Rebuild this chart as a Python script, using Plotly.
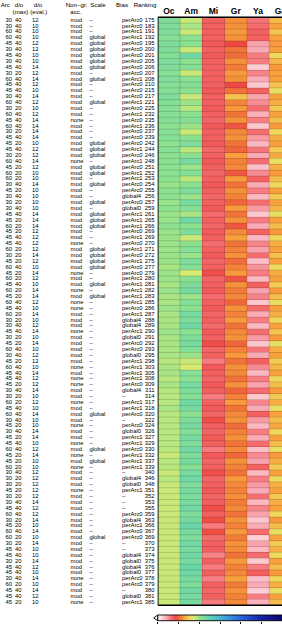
import numpy as np
import plotly.graph_objects as go

W, H = 282, 624

# ---------------- data ----------------
ARC = [30,30,60,60,45,30,45,30,45,30, 60,45,45,30,60,30,60,45,60,30,
       45,45,45,30,60,45,60,60,30,45, 30,30,30,45,45,60,45,45,45,60,
       30,45,60,45,60,45,60,45,60,45, 60,30,30,45,30,45,60,30,45,60,
       45,45,45,30,30,60,45,60,30,45, 30,45,45,60,45,45,60,30,30,30,
       45,30,30,45,60,30,45,60,60,30, 45,45,30,45,45,30,60,45,45,45]
DMAX = [40,40,40,40,40,40,40,40,40,20, 40,40,40,40,40,20,40,40,40,20,
        40,20,40,20,40,20,20,20,40,20, 40,20,40,40,20,20,20,40,40,20,
        20,20,40,20,20,40,20,20,40,40, 20,20,40,40,20,20,40,40,20,40,
        40,40,20,40,20,20,40,40,40,20, 40,20,40,40,20,20,20,40,20,20,
        20,20,40,40,40,20,20,40,20,20, 40,40,20,40,40,40,20,40,40,20]
DEVAL = [12,10,10,10,12,12,10,10,14,12, 14,12,10,14,12,10,12,14,14,14,
         14,10,12,12,14,12,10,10,14,10, 10,10,10,14,14,14,12,12,12,12,
         14,12,10,14,12,10,14,14,12,10, 14,10,12,14,10,14,10,12,12,10,
         14,12,12,14,10,12,10,14,10,10, 14,14,10,12,14,10,10,12,12,12,
         12,12,14,12,12,14,10,14,10,14, 10,10,14,12,10,14,10,14,12,10]
_none_rows = {17,24,38,43,46,48,49,53,59,61,62,65,69,72,74,76,80,95,99}
NONGR = ["none" if i in _none_rows else "mod" for i in range(100)]
_global_rows = {3,4,5,6,7,8,10,14,21,22,23,25,26,28,31,33,34,35,39,40,41,42,45,47,67,73,75,88}
SCALE = ["global" if i in _global_rows else "–" for i in range(100)]
BIAS = ["perArc0","perArc0","perArc1","perArc1","perArc0","perArc0","perArc0","perArc0","perArc0","perArc0",
        "perArc1","perArc0","perArc0","perArc0","perArc1","perArc0","perArc1","perArc0","perArc1","perArc0",
        "perArc0","perArc0","perArc1","perArc0","perArc1","perArc0","perArc1","perArc1","perArc0","perArc0",
        "global4","perArc0","global0","perArc1","perArc1","perArc1","perArc0","perArc1","perArc0","perArc1",
        "perArc0","perArc1","perArc0","perArc0","perArc1","perArc1","perArc1","perArc1","perArc1","perArc0",
        "perArc1","global4","global4","perArc1","global0","perArc0","perArc0","global0","perArc1","perArc1",
        "perArc1","perArc1","perArc0","global4","–","perArc1","perArc1","perArc0","–","perArc0",
        "global0","perArc1","perArc1","perArc0","perArc1","perArc1","perArc1","–","global4","global0",
        "perArc1","–","–","–","perArc0","global4","perArc1","perArc0","perArc0","–",
        "–","global4","global0","global4","global0","perArc0","perArc0","–","global0","perArc1"]
RANKING = [175,183,191,192,195,200,201,205,206,207, 208,210,215,217,221,225,232,235,236,237,
           239,242,244,246,248,251,252,253,254,255, 256,257,259,261,265,266,269,269,270,271,
           272,275,277,279,280,281,282,283,285,286, 287,288,289,290,291,292,293,295,298,303,
           305,308,309,311,314,317,318,320,322,324, 326,327,329,330,332,337,339,340,346,348,
           351,352,353,355,359,363,366,367,369,370, 373,374,375,376,377,378,379,380,381,385]

COLS = ["Oc", "Am", "Mi", "Gr", "Ya", "Ga"]
OC = [0.33,0.33,0.33,0.32,0.33,0.33,0.32,0.33,0.33,0.32, 0.33,0.32,0.32,0.33,0.32,0.32,0.32,0.32,0.31,0.32,
      0.32,0.31,0.32,0.31,0.31,0.31,0.31,0.31,0.30,0.31, 0.31,0.30,0.31,0.30,0.30,0.31,0.30,0.30,0.30,0.30,
      0.30,0.30,0.29,0.30,0.30,0.29,0.30,0.29,0.29,0.30, 0.29,0.29,0.29,0.30,0.29,0.29,0.29,0.29,0.28,0.29,
      0.29,0.28,0.29,0.28,0.28,0.28,0.29,0.28,0.28,0.28, 0.28,0.28,0.28,0.28,0.27,0.28,0.28,0.27,0.28,0.27,
      0.27,0.27,0.27,0.27,0.27,0.27,0.27,0.27,0.27,0.27, 0.27,0.27,0.27,0.27,0.27,0.27,0.27,0.27,0.27,0.27]
AM = [0.27,0.29,0.27,0.31,0.31,0.27,0.35,0.31,0.32,0.27, 0.31,0.32,0.31,0.27,0.30,0.28,0.31,0.32,0.30,0.27,
      0.31,0.33,0.28,0.31,0.34,0.30,0.32,0.28,0.31,0.33, 0.30,0.34,0.32,0.29,0.35,0.31,0.33,0.27,0.31,0.32,
      0.30,0.33,0.32,0.26,0.31,0.33,0.34,0.30,0.32,0.31, 0.34,0.33,0.35,0.31,0.33,0.34,0.32,0.30,0.27,0.26,
      0.32,0.31,0.34,0.33,0.32,0.35,0.34,0.31,0.33,0.34, 0.32,0.34,0.33,0.35,0.33,0.34,0.32,0.34,0.35,0.33,
      0.34,0.33,0.34,0.35,0.33,0.34,0.36,0.34,0.33,0.35, 0.34,0.35,0.34,0.36,0.35,0.34,0.33,0.35,0.34,0.34]
MI = [0.11,0.11,0.11,0.11,0.115,0.11,0.115,0.11,0.11,0.11, 0.11,0.11,0.115,0.11,0.11,0.115,0.11,0.105,0.115,0.11,
      0.11,0.115,0.105,0.11,0.115,0.11,0.105,0.11,0.115,0.11, 0.105,0.11,0.115,0.10,0.11,0.105,0.115,0.11,0.10,0.11,
      0.115,0.105,0.11,0.125,0.105,0.11,0.115,0.10,0.11,0.115, 0.105,0.11,0.10,0.115,0.11,0.125,0.105,0.11,0.09,0.115,
      0.11,0.105,0.115,0.11,0.09,0.11,0.115,0.105,0.125,0.11, 0.105,0.115,0.11,0.09,0.115,0.105,0.11,0.125,0.105,0.11,
      0.115,0.105,0.11,0.125,0.11,0.135,0.09,0.135,0.10,0.11, 0.11,0.085,0.11,0.09,0.11,0.088,0.11,0.105,0.11,0.09]
GR = [0.18,0.18,0.185,0.18,0.13,0.16,0.155,0.18,0.165,0.185, 0.18,0.13,0.16,0.215,0.17,0.185,0.16,0.18,0.14,0.175,
      0.18,0.16,0.15,0.19,0.17,0.175,0.14,0.185,0.16,0.18, 0.17,0.15,0.185,0.16,0.18,0.14,0.175,0.19,0.16,0.17,
      0.18,0.155,0.17,0.185,0.14,0.18,0.165,0.175,0.15,0.18, 0.17,0.185,0.16,0.175,0.18,0.15,0.17,0.185,0.16,0.18,
      0.175,0.16,0.18,0.15,0.17,0.185,0.16,0.175,0.18,0.155, 0.17,0.18,0.16,0.175,0.15,0.18,0.17,0.16,0.185,0.175,
      0.17,0.18,0.165,0.175,0.16,0.18,0.17,0.185,0.165,0.18, 0.175,0.16,0.185,0.17,0.175,0.19,0.165,0.18,0.17,0.175]
YA = [0.095,0.10,0.11,0.11,0.065,0.06,0.09,0.09,0.035,0.085, 0.06,0.04,0.11,0.065,0.08,0.10,0.055,0.09,0.04,0.10,
      0.07,0.05,0.095,0.06,0.10,0.045,0.08,0.11,0.06,0.09, 0.05,0.10,0.07,0.04,0.09,0.06,0.11,0.05,0.085,0.065,
      0.10,0.045,0.075,0.09,0.05,0.11,0.065,0.085,0.04,0.10, 0.06,0.09,0.05,0.10,0.07,0.04,0.095,0.06,0.11,0.08,
      0.05,0.09,0.065,0.10,0.04,0.085,0.06,0.11,0.07,0.05, 0.09,0.06,0.10,0.045,0.08,0.065,0.11,0.05,0.09,0.07,
      0.06,0.10,0.05,0.085,0.065,0.04,0.06,0.10,0.035,0.065, 0.05,0.10,0.04,0.09,0.11,0.045,0.06,0.035,0.09,0.055]
GA = [0.21,0.19,0.215,0.19,0.185,0.19,0.235,0.205,0.185,0.19, 0.19,0.215,0.24,0.19,0.20,0.22,0.19,0.21,0.185,0.23,
      0.20,0.19,0.22,0.195,0.24,0.20,0.185,0.21,0.23,0.19, 0.22,0.19,0.205,0.24,0.19,0.21,0.185,0.23,0.20,0.19,
      0.215,0.19,0.235,0.20,0.19,0.22,0.185,0.21,0.24,0.19, 0.20,0.23,0.19,0.215,0.185,0.24,0.20,0.19,0.22,0.205,
      0.19,0.23,0.21,0.185,0.22,0.20,0.24,0.19,0.21,0.195, 0.23,0.19,0.21,0.24,0.185,0.20,0.22,0.19,0.235,0.20,
      0.19,0.22,0.20,0.19,0.23,0.185,0.21,0.24,0.19,0.22, 0.20,0.235,0.19,0.21,0.185,0.23,0.20,0.24,0.19,0.21]
CBAR_TICKS = [0, 0.15, 0.3, 0.45, 0.6, 0.75, 0.9]

# ---------------- style / geometry ----------------
CSCALE = [
    [0.00, "rgb(255,255,255)"], [0.025, "rgb(255,220,225)"], [0.06, "rgb(250,170,180)"],
    [0.10, "rgb(244,108,110)"], [0.13, "rgb(238,72,68)"], [0.16, "rgb(242,115,58)"],
    [0.19, "rgb(248,160,60)"], [0.23, "rgb(240,215,90)"], [0.26, "rgb(215,235,115)"],
    [0.31, "rgb(140,225,145)"], [0.37, "rgb(100,210,175)"], [0.45, "rgb(70,180,215)"],
    [0.55, "rgb(50,130,225)"], [0.66, "rgb(35,70,200)"], [0.78, "rgb(20,25,150)"],
    [0.90, "rgb(10,10,105)"], [1.00, "rgb(5,5,70)"]]

FONT = "Liberation Sans, Arial, sans-serif"
FS = 5.9
HM_LEFT, HM_TOP, ROW_H, COL_W = 157.7, 17.3, 5.88, 22.3
CB_TOP, CB_BOT, CB_LEN = 615.0, 620.7, 138.7

n = len(RANKING)
ncol = len(COLS)
y_top = -0.5 - HM_TOP / ROW_H
y_bot = y_top + H / ROW_H
def py(px):  # pixel row -> y units
    return y_top + px / ROW_H

rows = list(range(n))
fig = go.Figure()

# heatmap
z = [list(v) for v in zip(OC, AM, MI, GR, YA, GA)]
fig.add_trace(go.Heatmap(z=z, x=list(range(ncol)), y=rows, colorscale=CSCALE,
                         zmin=0, zmax=1, showscale=False, hoverinfo="skip",
                         xaxis="x", yaxis="y"))
# cell grid
gx, gy = [], []
for i in range(n + 1):
    gx += [-0.5, ncol - 0.5, None]; gy += [i - 0.5, i - 0.5, None]
for j in range(ncol + 1):
    gx += [j - 0.5, j - 0.5, None]; gy += [-0.5, n - 0.5, None]
fig.add_trace(go.Scatter(x=gx, y=gy, mode="lines", line=dict(color="rgba(0,0,0,0.25)", width=0.6),
                         hoverinfo="skip", xaxis="x", yaxis="y", cliponaxis=True))
# column headers
fig.add_trace(go.Scatter(x=list(range(ncol)), y=[py(12.3)] * ncol, text=COLS, mode="text",
                         textposition="middle center", cliponaxis=False, hoverinfo="skip",
                         textfont=dict(family="Liberation Sans, Arial, sans-serif", size=8.5, color="black"),
                         texttemplate="<b>%{text}</b>", xaxis="x", yaxis="y"))

# text table (x2 in pixel units)
def col(xpos, vals, pos):
    fig.add_trace(go.Scatter(x=[xpos] * len(vals), y=rows, text=[str(v) for v in vals], mode="text",
                             textposition=pos, cliponaxis=False, hoverinfo="skip",
                             textfont=dict(family=FONT, size=FS, color="black"),
                             xaxis="x2", yaxis="y"))
col(5.5, ARC, "middle right")
col(15.0, DMAX, "middle right")
col(32.0, DEVAL, "middle right")
col(70.5, NONGR, "middle right")
col(89.5, SCALE, "middle right")
col(122.0, BIAS, "middle right")
col(154.5, RANKING, "middle left")

hdr1 = [(5.3, "Arc"), (19.0, "d/o"), (38.0, "d/o"), (76.5, "Non\u2013gr."), (98.0, "Scale"),
        (122.0, "Bias"), (145.0, "Ranking")]
hdr2 = [(20.5, "(max)"), (38.8, "(eval.)"), (76.0, "acc.")]
for ypx, hdr in ((5.3, hdr1), (12.5, hdr2)):
    fig.add_trace(go.Scatter(x=[h[0] for h in hdr], y=[py(ypx)] * len(hdr), text=[h[1] for h in hdr],
                             mode="text", textposition="middle center", cliponaxis=False, hoverinfo="skip",
                             textfont=dict(family=FONT, size=6.2, color="black"), xaxis="x2", yaxis="y"))

# colorbar as gradient
grad = np.linspace(0, 1, 400)
fig.add_trace(go.Heatmap(z=[grad], x=grad, y=[0], colorscale=CSCALE, zmin=0, zmax=1,
                         showscale=False, hoverinfo="skip", xaxis="x3", yaxis="y3"))

# frame shapes
shapes = [
    dict(type="line", xref="x", yref="y", x0=-0.5, x1=-0.5, y0=-0.5, y1=n - 0.5, line=dict(color="black", width=1.6)),
    dict(type="line", xref="x", yref="y", x0=-0.5, x1=ncol, y0=-0.5, y1=-0.5, line=dict(color="black", width=1.4)),
    dict(type="line", xref="x", yref="y", x0=-0.5, x1=ncol, y0=n - 0.5, y1=n - 0.5, line=dict(color="black", width=1.4)),
]
cb_y0 = (H - CB_BOT) / H
cb_y1 = (H - CB_TOP) / H
cb_x0 = HM_LEFT / W
shapes.append(dict(type="rect", xref="paper", yref="paper", x0=cb_x0, x1=cb_x0 + CB_LEN / W,
                   y0=cb_y0, y1=cb_y1, line=dict(color="black", width=0.9)))
tip = (HM_LEFT - 4.0) / W
ym = (cb_y0 + cb_y1) / 2
shapes.append(dict(type="path", xref="paper", yref="paper",
                   path=f"M {tip},{ym} L {cb_x0},{cb_y1} L {cb_x0},{cb_y0} Z",
                   fillcolor="white", line=dict(color="black", width=0.9)))

fig.update_layout(
    width=W, height=H, margin=dict(l=0, r=0, t=0, b=0), template="none",
    paper_bgcolor="white", plot_bgcolor="rgba(0,0,0,0)", showlegend=False,
    shapes=shapes,
    xaxis=dict(domain=[HM_LEFT / W, 1], range=[-0.5, -0.5 + (W - HM_LEFT) / COL_W], visible=False,
               anchor="y", fixedrange=True),
    xaxis2=dict(domain=[0, HM_LEFT / W], range=[0, HM_LEFT], visible=False, anchor="y", fixedrange=True),
    yaxis=dict(domain=[0, 1], range=[y_bot, y_top], visible=False, fixedrange=True),
    xaxis3=dict(domain=[HM_LEFT / W, 1], range=[0, (W - HM_LEFT) / CB_LEN], anchor="y3",
                showgrid=False, zeroline=False, showticklabels=False, ticks="outside", ticklen=3,
                tickwidth=0.9, tickcolor="black", tickvals=CBAR_TICKS, automargin=False, showline=False),
    yaxis3=dict(domain=[cb_y0, cb_y1], range=[-0.5, 0.5], visible=False, anchor="x3"),
)

fig.write_html("out.html")
